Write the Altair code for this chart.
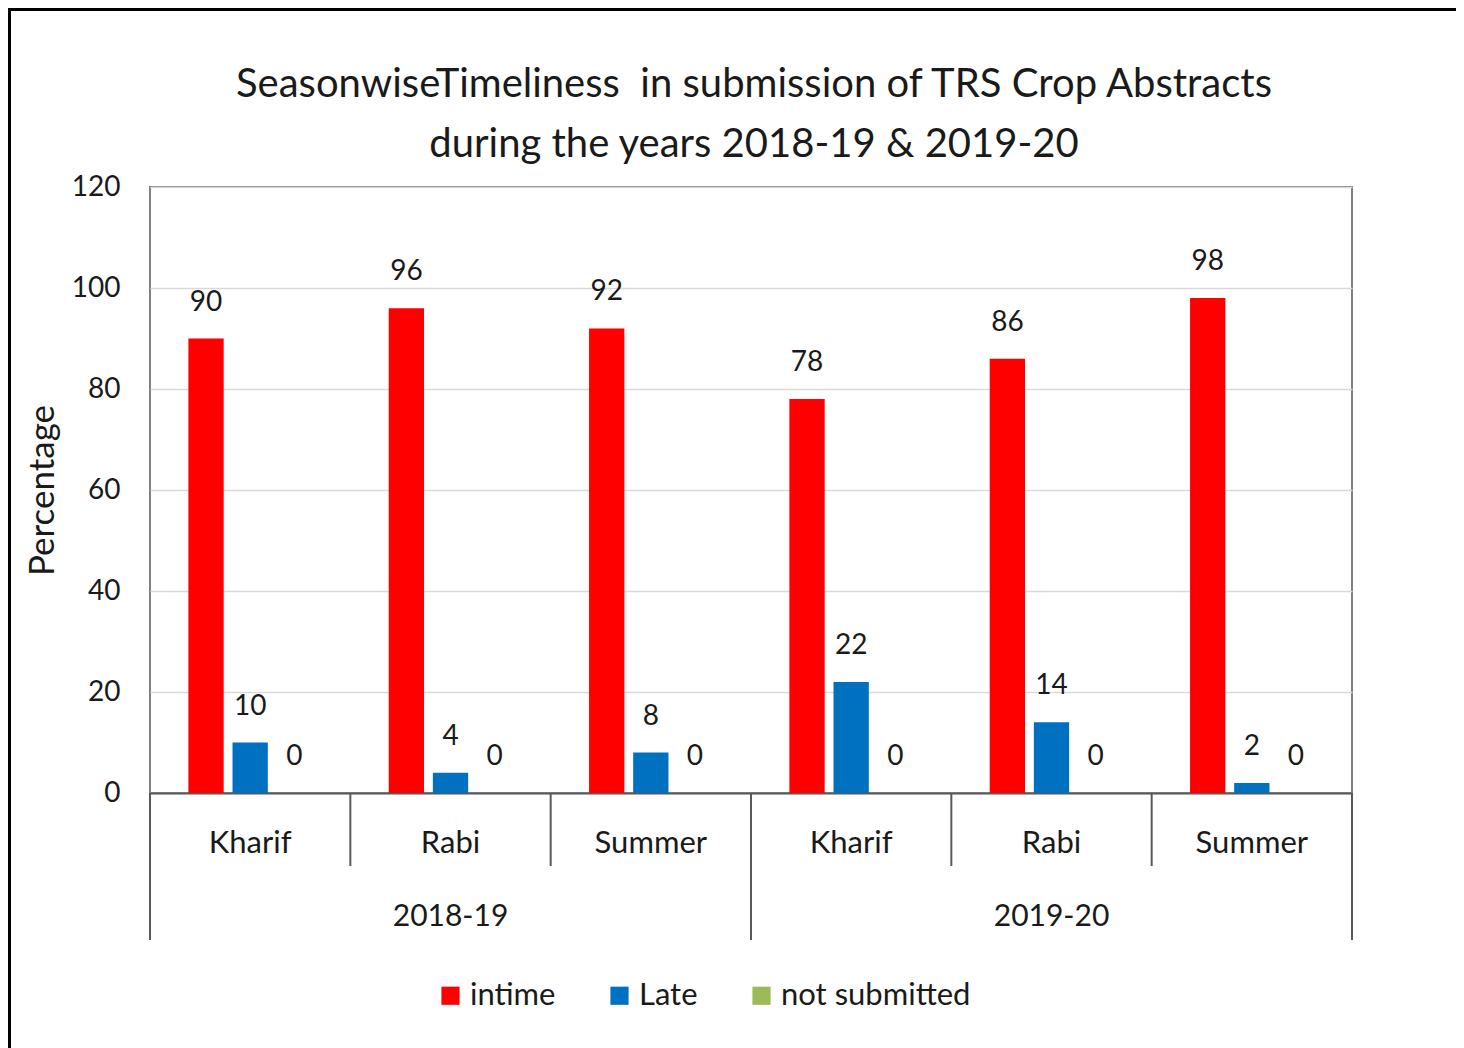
import altair as alt
import pandas as pd

years = ["2018-19", "2018-19", "2018-19", "2019-20", "2019-20", "2019-20"]
seasons = ["Kharif", "Rabi", "Summer", "Kharif", "Rabi", "Summer"]
intime = [90, 96, 92, 78, 86, 98]
late = [10, 4, 8, 22, 14, 2]
not_submitted = [0, 0, 0, 0, 0, 0]
series_names = ["intime", "Late", "not submitted"]
series_colors = ["#FF0000", "#0070C0", "#9BBB59"]
year_list = ["2018-19", "2019-20"]
title_lines = ["SeasonwiseTimeliness \u00a0in submission of TRS Crop Abstracts",
               "during the years 2018-19 & 2019-20"]

keys = [f"{y}|{s}" for y, s in zip(years, seasons)]
rows = []
for name, vals in zip(series_names, [intime, late, not_submitted]):
    for k, v in zip(keys, vals):
        rows.append({"key": k, "series": name, "value": v})
df = pd.DataFrame(rows)

W, H = 1202, 606
FONT = "Lato"
TXT = "#1a1a1a"

xscale = alt.Scale(domain=keys, paddingInner=0, paddingOuter=0)
xoff = alt.XOffset("series:N", scale=alt.Scale(domain=series_names, paddingInner=0.2, paddingOuter=0.87))

bars = alt.Chart(df).mark_bar(stroke=None).encode(
    x=alt.X("key:N", scale=xscale, sort=keys,
            axis=alt.Axis(title=None, labelExpr="split(datum.label, '|')[1]",
                          labelFontSize=31, labelFont=FONT, labelColor=TXT,
                          labelAngle=0, ticks=False, tickSize=0, labelPadding=50,
                          labelBaseline="middle", domainColor="#595959", domainWidth=2,
                          grid=False)),
    xOffset=xoff,
    y=alt.Y("value:Q", scale=alt.Scale(domain=[0, 120]),
            axis=alt.Axis(title="Percentage", values=[0, 20, 40, 60, 80, 100, 120],
                          labelFontSize=28, labelFont=FONT, labelColor=TXT,
                          labelPadding=30, ticks=False, domain=False,
                          gridColor="#d9d9d9", gridWidth=1.5,
                          titleFontSize=35, titleFont=FONT, titleFontWeight="normal",
                          titleColor=TXT, titlePadding=11)),
    color=alt.Color("series:N", scale=alt.Scale(domain=series_names, range=series_colors),
                    legend=alt.Legend(title=None, orient="none", legendX=285, legendY=793,
                                      direction="horizontal", symbolType="square",
                                      symbolSize=330, symbolStrokeWidth=0,
                                      labelFontSize=31, labelFont=FONT, labelColor=TXT,
                                      labelOffset=4, columnPadding=48, labelLimit=0)),
)

labels = alt.Chart(df).mark_text(fontSize=28, font=FONT, color=TXT, baseline="alphabetic", dy=-28).encode(
    x=alt.X("key:N", scale=xscale, sort=keys),
    xOffset=xoff,
    y=alt.Y("value:Q"),
    text=alt.Text("value:Q"),
)

sep_short = pd.DataFrame({"key": [keys[1], keys[2], keys[4], keys[5]]})
sep_long = pd.DataFrame({"key": [keys[0], keys[3]]})
sep_end = pd.DataFrame({"key": [keys[5]]})

rule_short = alt.Chart(sep_short).mark_rule(color="#595959", strokeWidth=2).encode(
    x=alt.X("key:N", scale=xscale, sort=keys, bandPosition=0),
    y=alt.value(H), y2=alt.value(H + 73))
rule_long = alt.Chart(sep_long).mark_rule(color="#595959", strokeWidth=2).encode(
    x=alt.X("key:N", scale=xscale, sort=keys, bandPosition=0),
    y=alt.value(H), y2=alt.value(H + 147))
rule_end = alt.Chart(sep_end).mark_rule(color="#595959", strokeWidth=2).encode(
    x=alt.X("key:N", scale=xscale, sort=keys, bandPosition=1),
    y=alt.value(H), y2=alt.value(H + 147))

year_df = pd.DataFrame({"key": [keys[1], keys[4]], "year": year_list})
year_text = alt.Chart(year_df).mark_text(fontSize=30, font=FONT, color=TXT, baseline="middle").encode(
    x=alt.X("key:N", scale=xscale, sort=keys),
    y=alt.value(H + 124),
    text="year:N")

one = pd.DataFrame({"a": [0]})
title1 = alt.Chart(one).mark_text(fontSize=40, font=FONT, color=TXT, baseline="middle").encode(
    x=alt.value(W / 2 + 3), y=alt.value(-102), text=alt.value(title_lines[0]))
title2 = alt.Chart(one).mark_text(fontSize=40, font=FONT, color=TXT, baseline="middle").encode(
    x=alt.value(W / 2 + 3), y=alt.value(-42), text=alt.value(title_lines[1]))

border_left = alt.Chart(one).mark_rule(color="black", strokeWidth=3).encode(
    x=alt.value(-140.5), y=alt.value(-179), y2=alt.value(870))
border_top = alt.Chart(one).mark_rule(color="black", strokeWidth=3).encode(
    x=alt.value(-142), x2=alt.value(1310), y=alt.value(-177.5))

chart = alt.layer(bars, labels, rule_short, rule_long, rule_end, year_text,
                  title1, title2, border_left, border_top).properties(
    width=W, height=H,
    autosize=alt.AutoSizeParams(type="none"),
    padding={"left": 142, "top": 179, "right": 104, "bottom": 255},
    background="white",
).configure_view(stroke="#808080", strokeWidth=2)

chart.save("out.html", embed_options={"renderer": "svg", "actions": False})
